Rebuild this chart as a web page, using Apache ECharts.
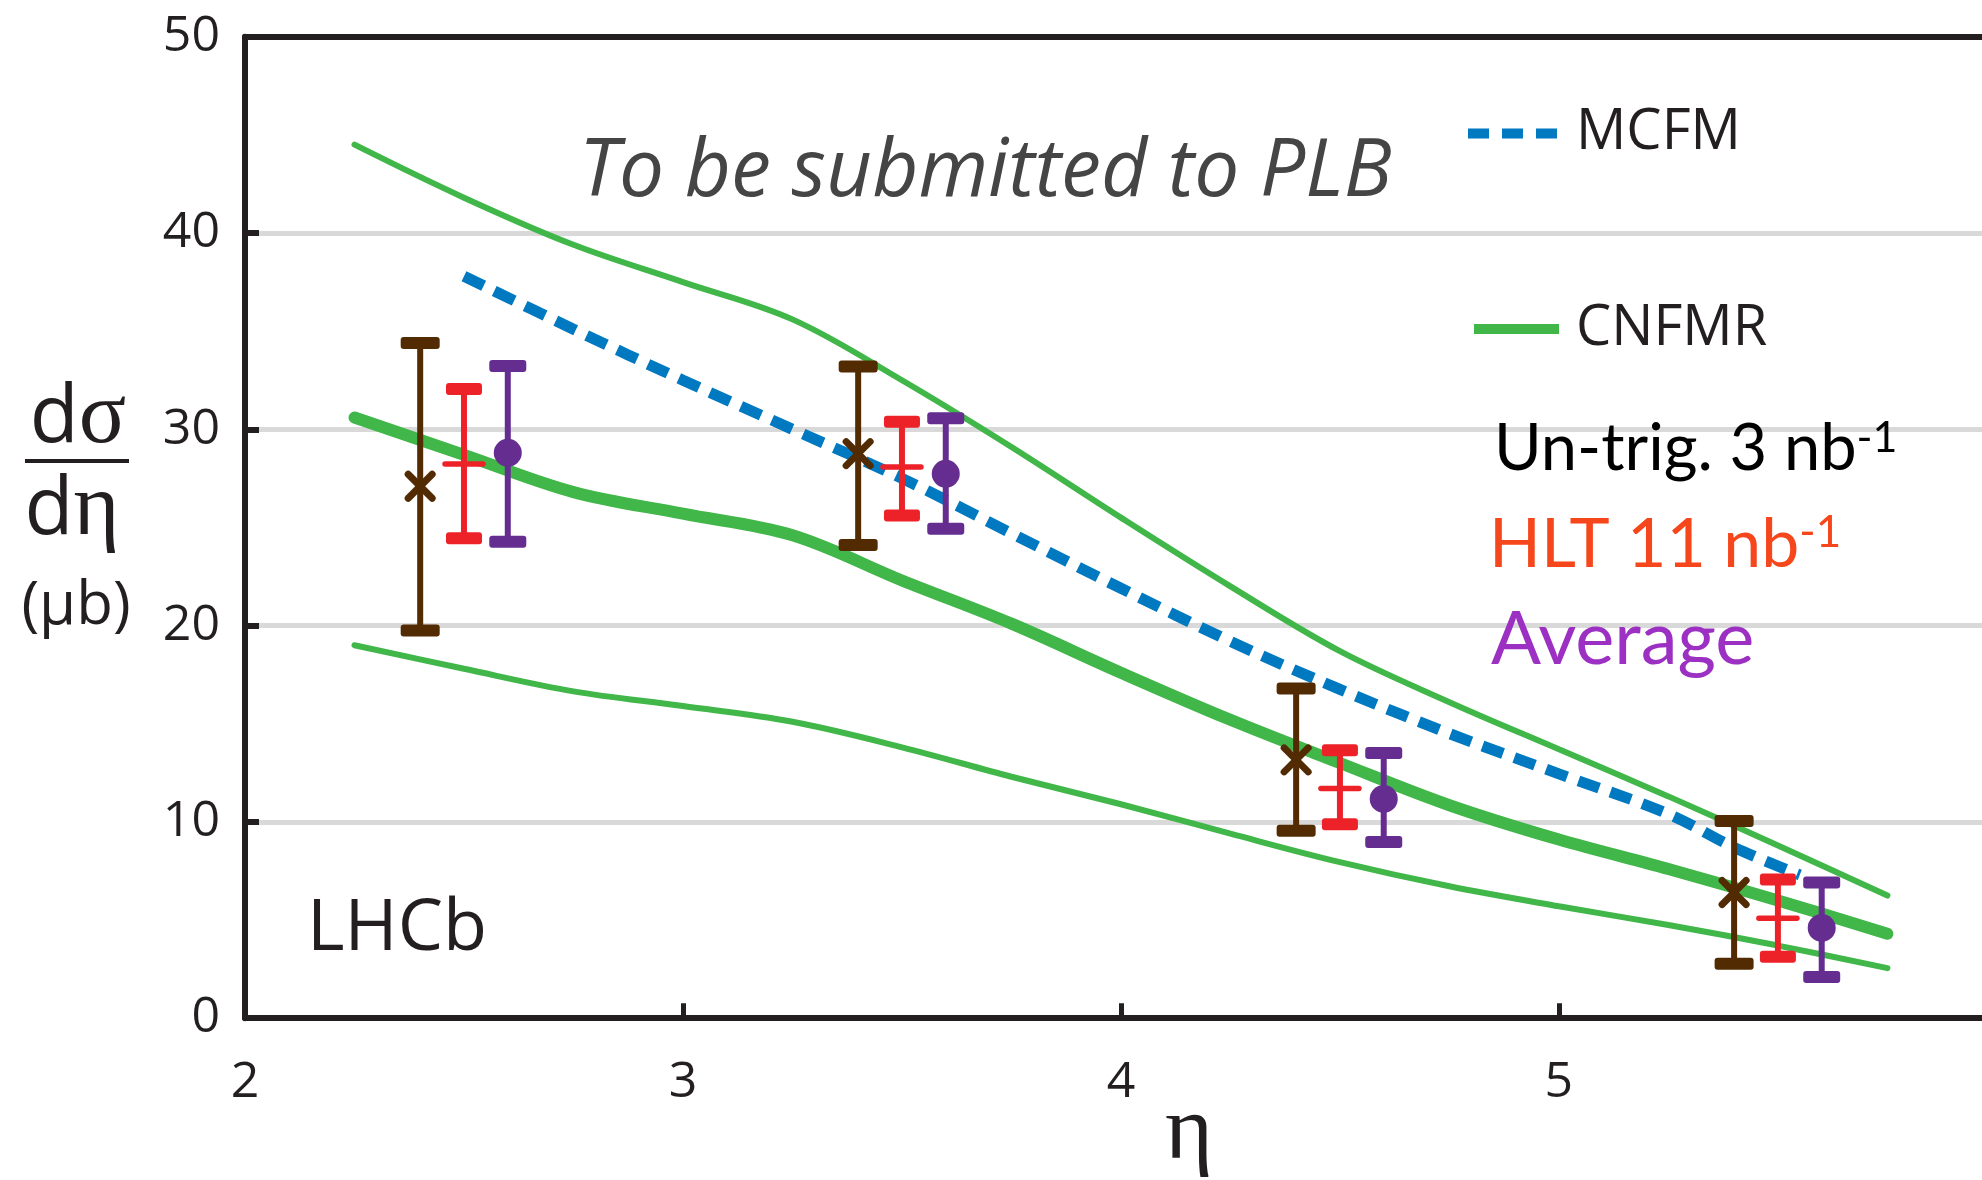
<!DOCTYPE html>
<html>
<head>
<meta charset="utf-8">
<script src="https://cdn.jsdelivr.net/npm/echarts@6/dist/echarts.min.js"></script>
<style>
  html, body { margin: 0; padding: 0; background: #ffffff; }
  #chart { width: 1982px; height: 1180px; }
</style>
</head>
<body>
<div id="chart"></div>
<script>
// CNFMR prediction: central value and band edges, sampled in eta
const etaGrid      = [2.25, 2.5, 2.75, 3.0, 3.25, 3.5, 3.75, 4.0, 4.25, 4.5, 4.75, 5.0, 5.25, 5.5, 5.75];
const cnfmrCentral = [30.6, 28.7, 26.8, 25.7, 24.6, 22.3, 20.1, 17.6, 15.2, 13.0, 10.85, 9.1, 7.6, 6.0, 4.3];
const cnfmrUpper   = [44.5, 41.8, 39.4, 37.5, 35.6, 32.5, 29.1, 25.5, 22.0, 18.7, 16.1, 13.7, 11.3, 8.8, 6.25];
const cnfmrLower   = [19.0, 17.8, 16.65, 15.9, 15.1, 13.8, 12.3, 10.9, 9.4, 7.95, 6.72, 5.7, 4.75, 3.7, 2.55];

// MCFM prediction
const mcfmEta    = [2.5, 2.75, 3.0, 3.25, 3.5, 3.75, 4.0, 4.25, 4.5, 4.75, 5.0, 5.25, 5.4, 5.55];
const mcfmValues = [37.8, 35.1, 32.5, 30.0, 27.5, 24.7, 21.9, 19.2, 16.75, 14.5, 12.45, 10.4, 8.7, 7.3];

// Un-triggered sample, 3 nb^-1
const untrigEta   = [2.4, 3.4, 4.4, 5.4];
const untrigValue = [27.1, 28.76, 13.16, 6.4];
const untrigLow   = [19.75, 24.1, 9.55, 2.78];
const untrigHigh  = [34.4, 33.2, 16.8, 10.04];

// HLT sample, 11 nb^-1
const hltEta   = [2.5, 3.5, 4.5, 5.5];
const hltValue = [28.23, 28.08, 11.7, 5.09];
const hltLow   = [24.45, 25.61, 9.88, 3.13];
const hltHigh  = [32.05, 30.38, 13.65, 7.07];

// Average of both samples
const avgEta   = [2.6, 3.6, 4.6, 5.6];
const avgValue = [28.8, 27.73, 11.17, 4.6];
const avgLow   = [24.27, 24.93, 8.97, 2.1];
const avgHigh  = [33.22, 30.56, 13.51, 6.91];

// Axis ticks
const etaTicks = [2, 3, 4, 5];
const etaRange = [2, 5.966];

const INK   = '#231f20';
const SANS  = '"Open Sans", "Noto Sans", sans-serif';
const GILL  = 'Lato, "Open Sans", sans-serif';
const SERIF = '"Liberation Serif", "DejaVu Serif", serif';

function pairs(xs, ys) { return xs.map((x, i) => [x, ys[i]]); }

function curve(name, xs, ys, color, width, dash) {
  return {
    name, type: 'line', data: pairs(xs, ys),
    symbol: 'none', smooth: 0.35, z: 3,
    lineStyle: { color, width, type: dash || 'solid', cap: dash ? 'butt' : 'round' },
    itemStyle: { color },
    emphasis: { disabled: true }
  };
}

// Vertical error bar with end caps and a central marker
function errorBars(name, color, eta, centre, low, high, marker, capW) {
  return {
    name, type: 'custom', z: 10,
    data: eta.map((x, i) => [x, centre[i], low[i], high[i]]),
    encode: { x: 0, y: [1, 2, 3] },
    renderItem(params, api) {
      const x = api.value(0);
      const c = api.coord([x, api.value(1)]);
      const yLow = api.coord([x, api.value(2)])[1];
      const yHigh = api.coord([x, api.value(3)])[1];
      const capH = 12;
      const children = [
        { type: 'line', shape: { x1: c[0], y1: yHigh, x2: c[0], y2: yLow },
          style: { stroke: color, lineWidth: 6 } },
        { type: 'rect', shape: { x: c[0] - capW / 2, y: yHigh - capH / 2, width: capW, height: capH, r: 3 },
          style: { fill: color } },
        { type: 'rect', shape: { x: c[0] - capW / 2, y: yLow - capH / 2, width: capW, height: capH, r: 3 },
          style: { fill: color } }
      ];
      if (marker === 'cross') {
        const a = 12;
        children.push(
          { type: 'line', shape: { x1: c[0] - a, y1: c[1] - a, x2: c[0] + a, y2: c[1] + a },
            style: { stroke: color, lineWidth: 7, lineCap: 'round' } },
          { type: 'line', shape: { x1: c[0] - a, y1: c[1] + a, x2: c[0] + a, y2: c[1] - a },
            style: { stroke: color, lineWidth: 7, lineCap: 'round' } }
        );
      } else if (marker === 'dash') {
        children.push({ type: 'line', shape: { x1: c[0] - 19, y1: c[1], x2: c[0] + 19, y2: c[1] },
          style: { stroke: color, lineWidth: 5.5, lineCap: 'round' } });
      } else {
        children.push({ type: 'circle', shape: { cx: c[0], cy: c[1], r: 14 }, style: { fill: color } });
      }
      return { type: 'group', children };
    }
  };
}

function label(text, x, y, size, family, color, extra) {
  return {
    type: 'text', z: 20,
    style: Object.assign({
      text, x, y, fontSize: size, fontFamily: family, fill: color,
      align: 'left', verticalAlign: 'middle'
    }, extra || {})
  };
}

function supLabel(main, sup, x, y, size, supSize, color) {
  return label('{m|' + main + '}{s|' + sup + '}', x, y, size, GILL, color, {
    rich: {
      m: { fontSize: size, fontFamily: GILL, fill: color },
      s: { fontSize: supSize, fontFamily: GILL, fill: color, verticalAlign: 'top' }
    }
  });
}

const chart = echarts.init(document.getElementById('chart'));

chart.setOption({
  animation: false,
  backgroundColor: '#ffffff',
  grid: { left: 245, right: 0, top: 36.7, bottom: 161.8 },
  xAxis: [{
    type: 'value', min: etaRange[0], max: etaRange[1], interval: 1, position: 'bottom',
    axisLine: { show: true, onZero: false, lineStyle: { color: INK, width: 6 } },
    axisTick: { show: true, inside: true, length: 15, customValues: etaTicks, lineStyle: { color: INK, width: 5 } },
    axisLabel: { fontSize: 50, color: INK, fontFamily: SANS, margin: 40, customValues: etaTicks },
    splitLine: { show: false }
  }, {
    type: 'value', min: etaRange[0], max: etaRange[1], position: 'top',
    axisLine: { show: true, onZero: false, lineStyle: { color: INK, width: 6 } },
    axisTick: { show: false }, axisLabel: { show: false }, splitLine: { show: false }
  }],
  yAxis: {
    type: 'value', min: 0, max: 50, interval: 10,
    axisLine: { show: true, lineStyle: { color: INK, width: 6 } },
    axisTick: { show: true, inside: true, length: 14, lineStyle: { color: INK, width: 6 } },
    axisLabel: { fontSize: 50, color: INK, fontFamily: SANS, margin: 25 },
    splitLine: { show: true, lineStyle: { color: '#d9d9d9', width: 5 } }
  },
  legend: {
    data: [
      { name: 'MCFM', icon: 'path://M0,0h21v10h-21z M34,0h21v10h-21z M68,0h21v10h-21z M90.9,0h0.1v0.1h-0.1z' },
      { name: 'CNFMR', icon: 'path://M0,0h0.1v0.1h-0.1z M6,0h85v10h-85z' }
    ],
    orient: 'vertical', left: 1468, top: 103.5, padding: 0,
    itemWidth: 91, itemHeight: 10, itemGap: 135.5, selectedMode: false,
    textStyle: { fontSize: 56, fontFamily: SANS, color: INK, lineHeight: 60, padding: [0, 0, 0, 12] }
  },
  series: [
    curve('CNFMR', etaGrid, cnfmrCentral, '#41b649', 12),
    curve('CNFMR', etaGrid, cnfmrUpper, '#41b649', 6),
    curve('CNFMR', etaGrid, cnfmrLower, '#41b649', 6),
    curve('MCFM', mcfmEta, mcfmValues, '#0079c1', 11, [22, 12]),
    errorBars('Un-trig. 3 nb-1', '#522b02', untrigEta, untrigValue, untrigLow, untrigHigh, 'cross', 39),
    errorBars('HLT 11 nb-1', '#ed2229', hltEta, hltValue, hltLow, hltHigh, 'dash', 36),
    errorBars('Average', '#662d91', avgEta, avgValue, avgLow, avgHigh, 'dot', 37)
  ],
  graphic: [
    label('To be submitted to PLB', 579, 173.5, 80, SANS, '#454545', { fontStyle: 'italic' }),
    label('LHCb', 307, 929.6, 72, SANS, INK),
    supLabel('Un-trig. 3 nb', '-1', 1494, 449.3, 65, 43, '#000000'),
    supLabel('HLT 11 nb', '-1', 1489, 545, 68, 44, '#f6461c'),
    label('Average', 1491, 640, 74, GILL, '#9b30c2'),
    // y-axis title: dσ / dη (μb)
    label('{d|d}{s|σ}', 78, 419, 80, SANS, INK, {
      align: 'center',
      rich: { d: { fontSize: 80, fontFamily: SANS, fill: INK }, s: { fontSize: 88, fontFamily: SERIF, fill: INK } }
    }),
    { type: 'line', z: 20, shape: { x1: 25, y1: 461, x2: 129, y2: 461 }, style: { stroke: INK, lineWidth: 4 } },
    label('{d|d}{s|η}', 72, 511, 80, SANS, INK, {
      align: 'center',
      rich: { d: { fontSize: 80, fontFamily: SANS, fill: INK }, s: { fontSize: 88, fontFamily: SERIF, fill: INK } }
    }),
    label('(μb)', 76, 607, 60, SANS, INK, { align: 'center' }),
    // x-axis title
    label('η', 1189, 1134, 92, SERIF, INK, { align: 'center' })
  ]
});
</script>
</body>
</html>
